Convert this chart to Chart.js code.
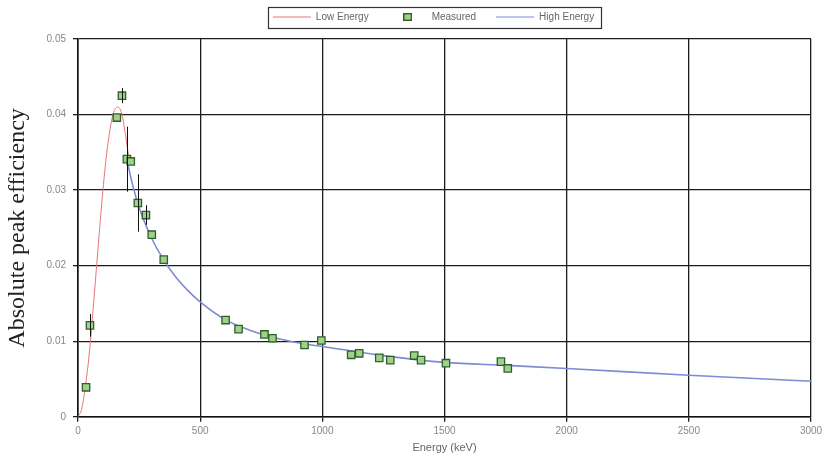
<!DOCTYPE html>
<html><head><meta charset="utf-8">
<script src="https://cdn.jsdelivr.net/npm/chart.js@4.4.1/dist/chart.umd.min.js"></script>
<style>html,body{margin:0;padding:0;background:#fff;}#wrap{width:830px;height:458px;}</style>
</head><body><div id="wrap"><canvas id="c" width="830" height="458"></canvas></div>
<script>
// ---- data ----
const measuredEnergy = [33, 49, 159, 180, 200, 216, 245, 278, 302, 351, 604, 657, 763, 796, 927, 996, 1118, 1151, 1233, 1278, 1376, 1404, 1506, 1731, 1759];
const measuredEff    = [0.0039, 0.0121, 0.0396, 0.0425, 0.0341, 0.0338, 0.0283, 0.0267, 0.0241, 0.0208, 0.0128, 0.0116, 0.0109, 0.0104, 0.0095, 0.0101, 0.0082, 0.0084, 0.0078, 0.0075, 0.0081, 0.0075, 0.0071, 0.0073, 0.0064];
const measuredErr    = [0, 0.0015, 0, 0.0010, 0.0043, 0, 0.0038, 0.0013, 0, 0, 0, 0, 0, 0, 0, 0, 0, 0, 0, 0, 0, 0, 0, 0, 0];
const lowEnergyE     = [0, 15, 30, 45, 60, 80, 102, 120, 143, 163, 180, 195, 210];
const lowEnergyEff   = [0, 0.0010, 0.0040, 0.0080, 0.0135, 0.0215, 0.0300, 0.0355, 0.0400, 0.0410, 0.0400, 0.0372, 0.0338];
const highEnergyE    = [200, 225, 250, 275, 300, 350, 400, 450, 500, 600, 700, 800, 900, 1000, 1250, 1500, 1750, 2000, 2500, 3000];
const highEnergyEff  = [0.0340, 0.0305, 0.0277, 0.0256, 0.0237, 0.0208, 0.0185, 0.0167, 0.0152, 0.0129, 0.0115, 0.0105, 0.0098, 0.0093, 0.0081, 0.0072, 0.0068, 0.0064, 0.0055, 0.0047];
const xTicks = [0, 500, 1000, 1500, 2000, 2500, 3000];
const xTickLabels = ['0', '500', '1000', '1500', '2000', '2500', '3000'];
const yTicks = [0, 0.01, 0.02, 0.03, 0.04, 0.05];
const yTickLabels = ['0', '0.01', '0.02', '0.03', '0.04', '0.05'];
const seriesLabels = ['Low Energy', 'Measured', 'High Energy'];

const zip = (xs, ys) => xs.map((x, i) => ({x: x, y: ys[i]}));
const labelFor = (ticks, labels) => (v) => { const i = ticks.findIndex(t => Math.abs(t - v) < 1e-9); return i >= 0 ? labels[i] : ''; };

// legend marker for the measured series
const sq = document.createElement('canvas');
sq.width = 9; sq.height = 8;
(function(){ const g = sq.getContext('2d'); g.fillStyle = '#9fd18a'; g.fillRect(0,0,9,8); g.strokeStyle = '#2f5f2a'; g.lineWidth = 1.4; g.strokeRect(0.7,0.7,7.6,6.6); })();

const LEGEND_SHIFT_X = 28;
const LEGEND_SHIFT_Y = -12;
const LEGEND_HEIGHT = 35;

const helpers = {
  id: 'helpers',
  beforeLayout(chart) {
    const lg = chart.legend;
    if (lg && !lg._patched) {
      const orig = lg.fit;
      lg.fit = function() { orig.call(this); this.height = LEGEND_HEIGHT; };
      lg._patched = true;
    }
  },
  afterLayout(chart) {
    const lg = chart.legend;
    if (lg) {
      lg.left += LEGEND_SHIFT_X; lg.right += LEGEND_SHIFT_X;
      lg.top += LEGEND_SHIFT_Y; lg.bottom += LEGEND_SHIFT_Y;
    }
  },
  afterDatasetsDraw(chart) {
    const ctx = chart.ctx, xs = chart.scales.x, ys = chart.scales.y;
    ctx.save();
    ctx.strokeStyle = '#111'; ctx.lineWidth = 1;
    measuredEnergy.forEach((e, i) => {
      const err = measuredErr[i];
      if (!err) return;
      const px = Math.round(xs.getPixelForValue(e)) + 0.5;
      ctx.beginPath();
      ctx.moveTo(px, ys.getPixelForValue(measuredEff[i] - err));
      ctx.lineTo(px, ys.getPixelForValue(measuredEff[i] + err));
      ctx.stroke();
    });
    ctx.restore();
  },
  afterDraw(chart) {
    const hb = chart.legend && chart.legend.legendHitBoxes;
    if (!hb || !hb.length) return;
    const ctx = chart.ctx;
    const l = hb[0].left - 5, r = hb[hb.length-1].left + hb[hb.length-1].width + 7;
    const t = hb[0].top - 5, b = hb[0].top + hb[0].height + 6;
    ctx.save();
    ctx.strokeStyle = '#333'; ctx.lineWidth = 1.2;
    ctx.strokeRect(Math.round(l)+0.5, Math.round(t)+0.5, Math.round(r-l), Math.round(b-t));
    ctx.restore();
  }
};

new Chart(document.getElementById('c'), {
  type: 'scatter',
  data: {
    datasets: [
      { label: seriesLabels[0], data: zip(lowEnergyE, lowEnergyEff), showLine: true, borderColor: '#e8757a', borderWidth: 1, pointRadius: 0, pointStyle: 'line', cubicInterpolationMode: 'monotone', order: 1 },
      { label: seriesLabels[1], data: zip(measuredEnergy, measuredEff), showLine: false, pointStyle: 'rect', pointRadius: 5.2, backgroundColor: '#9fd18a', borderColor: '#2f5f2a', borderWidth: 1.3, order: 0 },
      { label: seriesLabels[2], data: zip(highEnergyE, highEnergyEff), showLine: true, borderColor: '#7d8ad6', borderWidth: 1.6, pointRadius: 0, pointStyle: 'line', cubicInterpolationMode: 'monotone', order: 2 }
    ]
  },
  options: {
    responsive: false,
    animation: false,
    devicePixelRatio: 1,
    layout: { padding: { top: 4, right: 19, bottom: 3, left: 0 } },
    plugins: {
      tooltip: { enabled: false },
      legend: {
        position: 'top',
        labels: {
          usePointStyle: true,
          pointStyleWidth: 38,
          boxHeight: 8,
          padding: 20,
          color: '#666',
          font: { family: 'Liberation Sans', size: 10 },
          sort: (a, b) => a.datasetIndex - b.datasetIndex,
          generateLabels(chart) {
            const items = Chart.defaults.plugins.legend.labels.generateLabels(chart);
            items.forEach(it => {
              if (it.datasetIndex === 1) { it.pointStyle = sq; }
              else {
                it.pointStyle = 'line';
                it.strokeStyle = chart.data.datasets[it.datasetIndex].borderColor;
                it.lineWidth = 1;
              }
            });
            return items;
          }
        }
      }
    },
    scales: {
      x: {
        type: 'linear', min: 0, max: 3000,
        afterBuildTicks: s => { s.ticks = xTicks.map(v => ({value: v})); },
        ticks: { color: '#888', font: { family: 'Liberation Sans', size: 10 }, padding: 3, maxRotation: 0, callback: labelFor(xTicks, xTickLabels) },
        grid: { color: '#1c1c1c', lineWidth: 1.3, tickLength: 5, tickColor: '#1c1c1c' },
        border: { color: '#111', width: 1.6 },
        title: { display: true, text: 'Energy (keV)', color: '#666', font: { family: 'Liberation Sans', size: 11 }, padding: { top: 2, bottom: 0 } }
      },
      y: {
        type: 'linear', min: 0, max: 0.05,
        afterBuildTicks: s => { s.ticks = yTicks.map(v => ({value: v})); },
        afterFit: s => { s.width = 78; },
        ticks: { color: '#888', font: { family: 'Liberation Sans', size: 10 }, padding: 7, callback: labelFor(yTicks, yTickLabels) },
        grid: { color: '#1c1c1c', lineWidth: 1.3, tickLength: 5, tickColor: '#1c1c1c' },
        border: { color: '#111', width: 1.6 },
        title: { display: true, text: 'Absolute peak efficiency', color: '#222', font: { family: 'Liberation Serif', size: 24 }, padding: { top: 3, bottom: 0 } }
      }
    }
  },
  plugins: [helpers]
});
</script>
</body></html>
